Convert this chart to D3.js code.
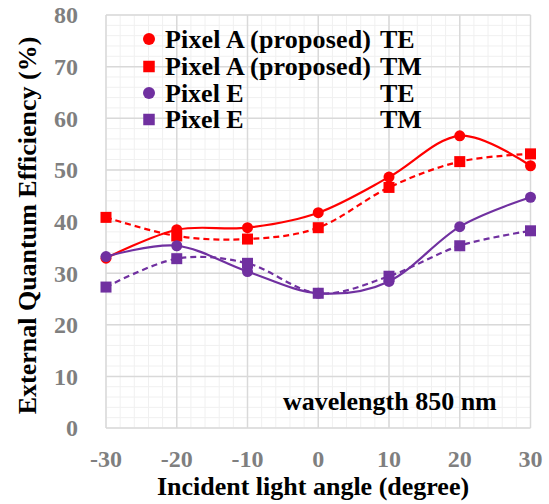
<!DOCTYPE html>
<html>
<head>
<meta charset="utf-8">
<script src="https://cdn.jsdelivr.net/npm/d3@7"></script>
<style>
  body { margin: 0; background: #fff; }
  text { font-family: "Liberation Serif", "Times New Roman", serif; font-weight: bold; }
</style>
</head>
<body>
<div id="chart"></div>
<script>
const angles = [-30, -20, -10, 0, 10, 20, 30];
const pixelA_TE = [32.9, 38.4, 38.8, 41.7, 48.6, 56.6, 50.8];
const pixelA_TM = [40.8, 37.2, 36.6, 38.8, 46.6, 51.6, 53.1];
const pixelE_TE = [33.2, 35.3, 30.3, 26.1, 28.4, 39.0, 44.7];
const pixelE_TM = [27.3, 32.8, 31.9, 26.1, 29.4, 35.3, 38.2];
const xTicks = [-30, -20, -10, 0, 10, 20, 30];
const yTicks = [0, 10, 20, 30, 40, 50, 60, 70, 80];

const series = [
  { name: "Pixel A (proposed)", mode: "TE", values: pixelA_TE, color: "#ff0000", shape: "circle", dash: null },
  { name: "Pixel A (proposed)", mode: "TM", values: pixelA_TM, color: "#ff0000", shape: "square", dash: "6,4" },
  { name: "Pixel E", mode: "TE", values: pixelE_TE, color: "#7030a0", shape: "circle", dash: null },
  { name: "Pixel E", mode: "TM", values: pixelE_TM, color: "#7030a0", shape: "square", dash: "6,4" }
];

const width = 549, height = 504;
const plot = { left: 106, right: 530.5, top: 15, bottom: 428 };

const svg = d3.select("#chart").append("svg")
  .attr("width", width)
  .attr("height", height);

const x = d3.scaleLinear().domain([-30, 30]).range([plot.left, plot.right]);
const y = d3.scaleLinear().domain([0, 80]).range([plot.bottom, plot.top]);

// minor grid
const grid = svg.append("g");
grid.selectAll(".vminor").data(d3.range(-30, 31, 2)).join("line")
  .attr("x1", d => x(d)).attr("x2", d => x(d))
  .attr("y1", plot.top).attr("y2", plot.bottom)
  .style("stroke", "#f0f0f0").style("stroke-width", 1);
grid.selectAll(".hminor").data(d3.range(0, 81, 2)).join("line")
  .attr("y1", d => y(d)).attr("y2", d => y(d))
  .attr("x1", plot.left).attr("x2", plot.right)
  .style("stroke", "#f0f0f0").style("stroke-width", 1);
// major grid
grid.selectAll(".vmajor").data(xTicks).join("line")
  .attr("x1", d => x(d)).attr("x2", d => x(d))
  .attr("y1", plot.top).attr("y2", plot.bottom)
  .style("stroke", "#d9d9d9").style("stroke-width", 1.5);
grid.selectAll(".hmajor").data(yTicks).join("line")
  .attr("y1", d => y(d)).attr("y2", d => y(d))
  .attr("x1", plot.left).attr("x2", plot.right)
  .style("stroke", "#d9d9d9").style("stroke-width", 1.5);

// tick labels
svg.append("g").selectAll("text").data(yTicks).join("text")
  .attr("x", 78).attr("y", d => y(d)).attr("dy", "0.35em")
  .attr("text-anchor", "end")
  .style("font-size", "24px").style("fill", "#7f7f7f")
  .text(d => d);
svg.append("g").selectAll("text").data(xTicks).join("text")
  .attr("x", d => x(d)).attr("y", 467)
  .attr("text-anchor", "middle")
  .style("font-size", "24px").style("fill", "#7f7f7f")
  .text(d => d);

// axis titles
svg.append("text")
  .attr("transform", `translate(36,${(plot.top + plot.bottom) / 2 + 4}) rotate(-90)`)
  .attr("text-anchor", "middle")
  .style("font-size", "26px").style("fill", "#000")
  .text("External Quantum Efficiency (%)");
svg.append("text")
  .attr("x", 313).attr("y", 495)
  .attr("text-anchor", "middle")
  .style("font-size", "26px").style("fill", "#000")
  .text("Incident light angle (degree)");

svg.append("text")
  .attr("x", 283).attr("y", 410)
  .style("font-size", "26px").style("fill", "#000")
  .text("wavelength 850 nm");

// series
const line = d3.line()
  .x((d, i) => x(angles[i]))
  .y(d => y(d))
  .curve(d3.curveCardinal.tension(0));

function drawMarker(g, shape, color, cx, cy, size) {
  if (shape === "circle") {
    g.append("circle").attr("cx", cx).attr("cy", cy).attr("r", size / 2)
      .style("fill", color);
  } else {
    g.append("rect").attr("x", cx - size / 2).attr("y", cy - size / 2)
      .attr("width", size).attr("height", size)
      .style("fill", color);
  }
}

series.forEach(s => {
  const g = svg.append("g");
  g.append("path")
    .datum(s.values)
    .attr("d", line)
    .style("fill", "none")
    .style("stroke", s.color)
    .style("stroke-width", 2.2)
    .style("stroke-dasharray", s.dash);
  s.values.forEach((v, i) => drawMarker(g, s.shape, s.color, x(angles[i]), y(v), 11));
});

// legend
const legend = svg.append("g");
const legendY = [39, 66.5, 93, 119.5];
series.forEach((s, i) => {
  drawMarker(legend, s.shape, s.color, 149, legendY[i], s.shape === "circle" ? 12 : 11.5);
  const t = legend.append("text")
    .attr("x", 165).attr("y", legendY[i]).attr("dy", "0.33em")
    .style("font-size", "26px").style("fill", "#000")
    .text(s.name);
  if (s.name.length > 10) t.attr("textLength", 206).attr("lengthAdjust", "spacing");
  legend.append("text")
    .attr("x", 380).attr("y", legendY[i]).attr("dy", "0.33em")
    .style("font-size", "26px").style("fill", "#000")
    .text(s.mode);
});
</script>
</body>
</html>
